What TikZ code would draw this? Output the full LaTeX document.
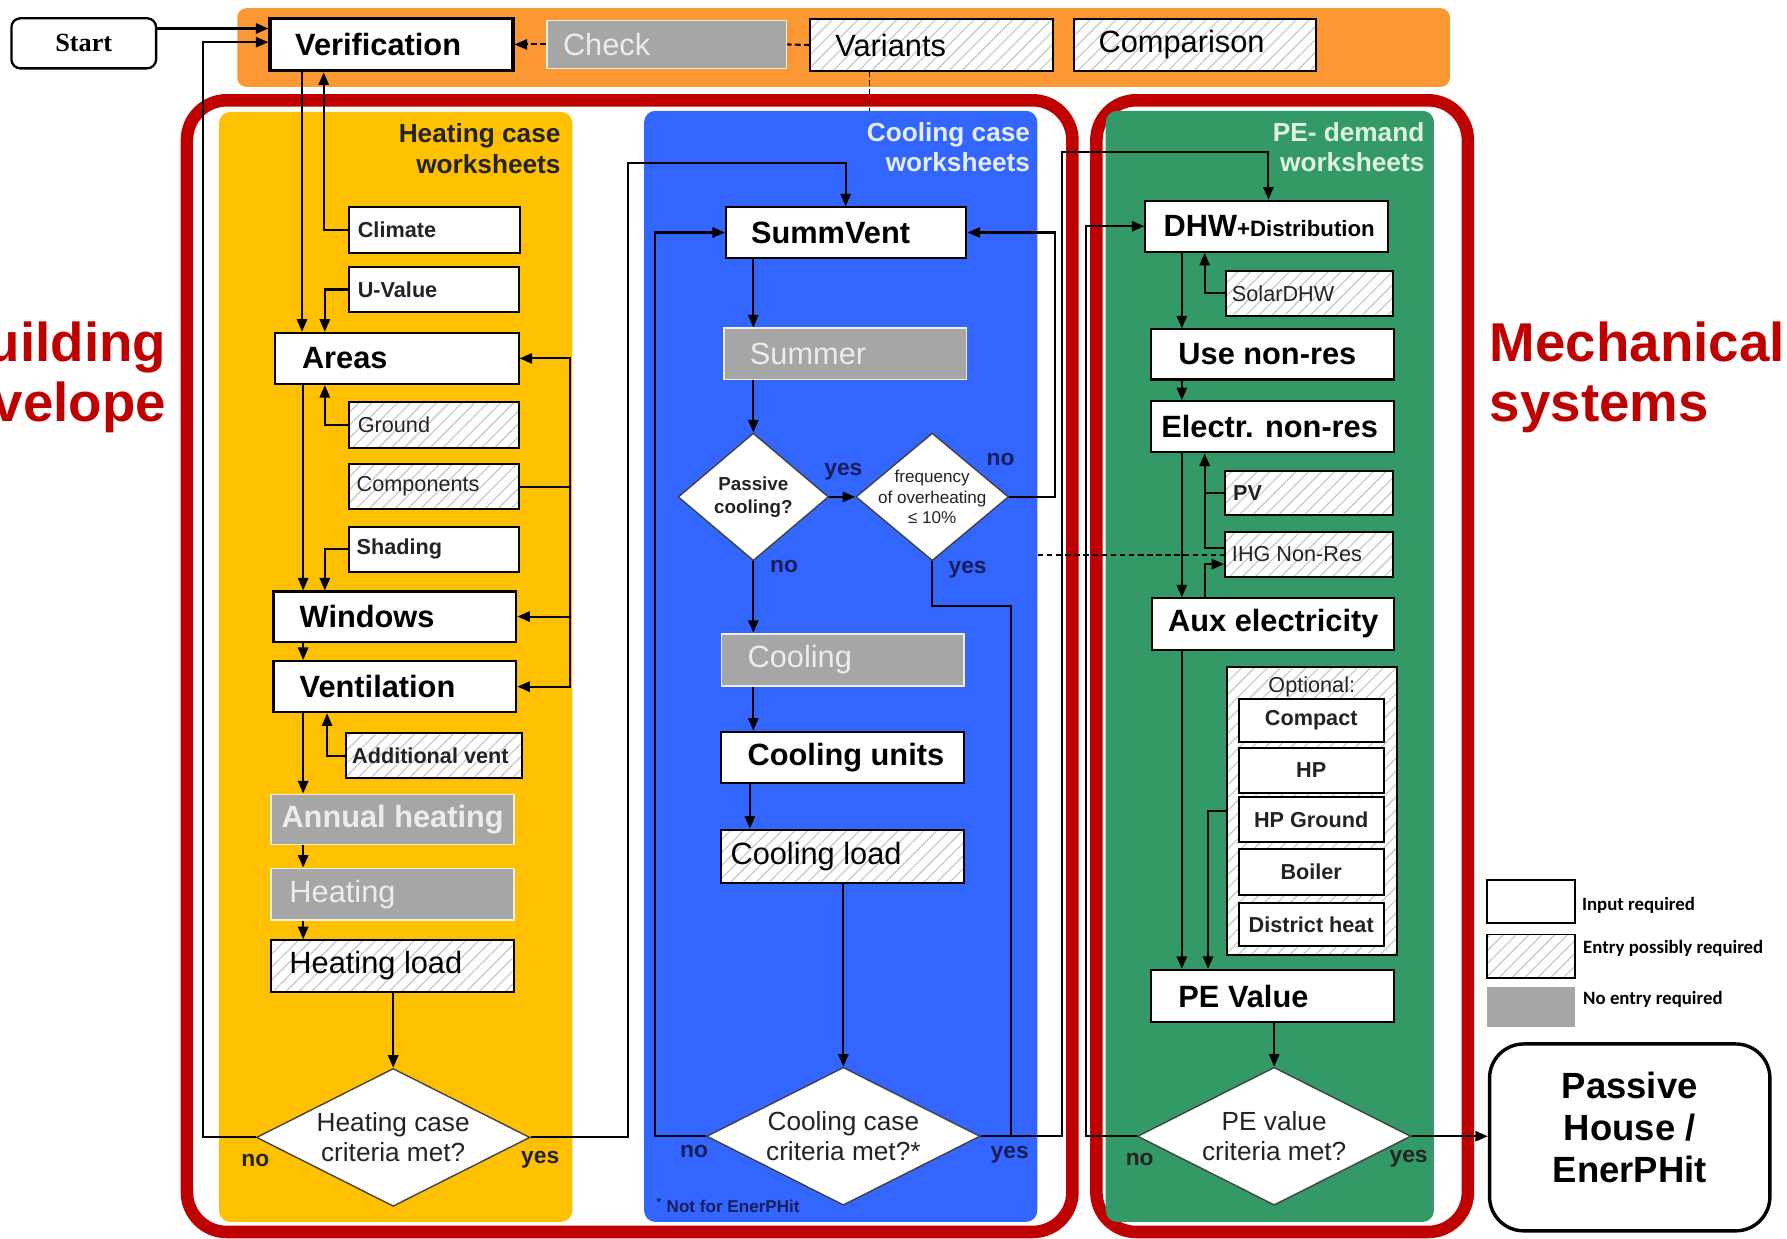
\documentclass[tikz,border=0pt]{standalone}
\usepackage{fontspec}
\setmainfont{Liberation Sans}
\newfontfamily\startfont{Liberation Serif}
\newfontfamily\legendfont{Carlito}
\usetikzlibrary{shapes.geometric,arrows.meta,patterns.meta}
\definecolor{orangec}{RGB}{252,152,52}
\definecolor{yellowc}{RGB}{255,192,0}
\definecolor{bluec}{RGB}{51,102,255}
\definecolor{greenc}{RGB}{51,153,102}
\definecolor{redc}{RGB}{192,0,0}
\definecolor{boxgray}{RGB}{166,166,166}
\definecolor{graybord}{RGB}{240,240,225}
\definecolor{graytext}{RGB}{236,236,236}
\definecolor{hatchc}{RGB}{198,198,198}
\definecolor{navy}{RGB}{25,30,90}
\definecolor{darktext}{RGB}{35,35,35}
\definecolor{bluetitle}{RGB}{228,236,255}
\definecolor{greentitle}{RGB}{222,242,228}
\tikzset{
  wbox/.style={draw=black, line width=1.8pt, fill=white},
  hbox/.style={draw=black, line width=1.8pt, preaction={fill=white}, pattern={Lines[angle=45,distance=8pt,line width=1pt]}, pattern color=hatchc},
  gbox/.style={draw=graybord, line width=1.5pt, fill=boxgray, text=graytext},
  fB/.style={font=\fontsize{27}{31}\selectfont\bfseries},
  fR/.style={font=\fontsize{27}{31}\selectfont},
  fsB/.style={font=\fontsize{19}{22}\selectfont\bfseries, text=darktext},
  fsR/.style={font=\fontsize{19}{22}\selectfont, text=darktext},
  arr/.style={line width=1.8pt, -{Triangle[length=11pt,width=9pt]}},
  ln/.style={line width=1.8pt},
  dia/.style={diamond, draw=black!75, line width=1.2pt, fill=white, inner sep=0pt},
  yn/.style={font=\fontsize{20}{22}\selectfont\bfseries},
  ptitle/.style={anchor=north east, align=right, inner sep=0pt, font=\fontsize{23}{27}\selectfont\bfseries},
  panel/.style={rounded corners=10pt, anchor=north west, inner sep=0pt},
  redframe/.style={draw=redc, line width=11pt, rounded corners=35pt},
}
% name, x1, y1, x2, y2, style, pad, align (l/c), text
\newcommand\bx[9]{%
  \pgfmathsetmacro\bxW{#4-#2}%
  \pgfmathsetmacro\bxH{#5-#3}%
  \pgfmathsetmacro\bxT{#4-#2-2*#7}%
  \pgfmathsetmacro\bxX{(#2+#4)/2}%
  \pgfmathsetmacro\bxY{(#3+#5)/2}%
  \node[#6, minimum width=\bxW pt, minimum height=\bxH pt, inner xsep=#7pt, inner ysep=0pt] (#1) at (\bxX,\bxY) {\makebox[\bxT pt][#8]{#9}};%
}
\begin{document}
\begin{tikzpicture}[x=1pt,y=-1pt]
\useasboundingbox (0,0) rectangle (1568,1087);
\clip (0,0) rectangle (1568,1087);
\fill[white] (0,0) rectangle (1568,1087);

% side titles
\node[anchor=east, align=right, inner sep=0pt, text=redc, font=\fontsize{48}{53}\selectfont\bfseries] (bldg) at (146,331) {Building\\envelope};
\node[anchor=west, align=left, inner sep=0pt, text=redc, font=\fontsize{48}{53}\selectfont\bfseries] (mech) at (1307,331) {Mechanical\\systems};

% orange band
\node[panel, fill=orangec, rounded corners=8pt, minimum width=1064pt, minimum height=69pt] (band) at (208,7) {};

% red frames
\draw[redframe] (164,88) rectangle (941,1081);
\draw[redframe] (962,88) rectangle (1288,1081);

% panels
\node[panel, fill=yellowc, minimum width=310pt, minimum height=974pt] (yellowp) at (192,98) {};
\node[panel, fill=bluec, minimum width=345pt, minimum height=975pt] (bluep) at (565,97) {};
\node[panel, fill=greenc, minimum width=288pt, minimum height=975pt] (greenp) at (970,97) {};

\node[ptitle, text=darktext] (ytitle) at (492,108) {Heating case\\worksheets};
\node[ptitle, text=bluetitle] (btitle) at (904,107) {Cooling case\\worksheets};
\node[ptitle, text=greentitle] (gtitle) at (1250,107) {PE- demand\\worksheets};

% start
\node[draw, line width=2pt, rounded corners=8pt, fill=white, minimum width=127pt, minimum height=44pt, font=\startfont\fontsize{23}{26}\selectfont\bfseries] (start) at (73.5,38) {Start};

% top row
\bx{verif}{237}{16}{450}{62}{wbox,line width=3pt,fB}{22}{l}{Verification}
\bx{check}{480}{18}{690}{60}{gbox,fR}{14}{l}{Check}
\bx{variants}{711}{17}{924}{62}{hbox,fR}{22}{l}{Variants}
\bx{comparison}{942}{17}{1155}{62}{hbox,fR}{22}{l}{Comparison}

% heating case
\bx{climate}{306}{182}{456}{222}{wbox,fsB}{8}{l}{Climate}
\bx{uvalue}{306}{234}{455}{274}{wbox,fsB}{8}{l}{U-Value}
\bx{areas}{241}{292}{455}{337}{wbox,fB}{24}{l}{Areas}
\bx{ground}{306}{353}{455}{393}{hbox,fsR}{8}{l}{Ground}
\bx{components}{306}{407}{455}{447}{hbox,fsR}{7}{l}{Components}
\bx{shading}{306}{462}{455}{502}{wbox,fsB}{7}{l}{Shading}
\bx{windows}{240}{519}{453}{563}{wbox,fB}{23}{l}{Windows}
\bx{ventilation}{240}{580}{453}{625}{wbox,fB}{23}{l}{Ventilation}
\bx{addvent}{304}{643}{458}{683}{hbox,fsB}{5}{l}{Additional vent}
\bx{annual}{238}{697}{451}{741}{gbox,fB}{9}{l}{Annual heating}
\bx{heating}{238}{762}{451}{807}{gbox,fR}{16}{l}{Heating}
\bx{hload}{238}{825}{451}{870}{hbox,fR}{16}{l}{Heating load}
\node[dia, minimum width=240pt, minimum height=121pt, label={[align=center, font=\fontsize{23}{26}\selectfont, text=darktext]center:Heating case\\criteria met?}] (hdia) at (345,998) {};

% cooling case
\bx{summvent}{637}{182}{848}{226}{wbox,fB}{22}{l}{SummVent}
\bx{summer}{635}{288}{848}{333}{gbox,fR}{23}{l}{Summer}
\node[dia, minimum width=132pt, minimum height=112pt, label={[align=center, font=\fontsize{16.5}{20}\selectfont\bfseries, text=darktext]center:Passive\\cooling?}] (pcool) at (661,436) {};
\node[dia, minimum width=134pt, minimum height=112pt, label={[align=center, font=\fontsize{15}{18}\selectfont, text=darktext]center:frequency\\of overheating\\≤ 10\%}] (freq) at (818,436) {};
\bx{cooling}{633}{556}{846}{602}{gbox,fR}{23}{l}{Cooling}
\bx{cunits}{633}{642}{846}{687}{wbox,fB}{23}{l}{Cooling units}
\bx{cload}{633}{728}{846}{775}{hbox,fR}{8}{l}{Cooling load}
\node[dia, minimum width=240pt, minimum height=121pt, label={[align=center, font=\fontsize{23}{26}\selectfont, text=darktext]center:Cooling case\\criteria met?*}] (cdia) at (740,997) {};
\node[anchor=west, inner sep=0pt, text=navy, font=\fontsize{15}{17}\selectfont\bfseries] (note) at (576,1058) {\textsuperscript{*} Not for EnerPHit};

% PE demand
\bx{dhw}{1005}{176}{1218}{221}{wbox,fB}{16}{l}{DHW{\fontsize{19.5}{22}\selectfont+Distribution}}
\bx{solar}{1076}{238}{1222}{277}{hbox,fsR}{5}{l}{SolarDHW}
\bx{usenr}{1010}{289}{1223}{333}{wbox,fB}{24}{l}{Use non-res}
\bx{electr}{1010}{352}{1223}{397}{wbox,fB}{9}{l}{Electr. non-res}
\bx{pv}{1075}{413}{1222}{452}{hbox,fsB}{7}{l}{PV}
\bx{ihg}{1075}{467}{1222}{506}{hbox,fsR}{6}{l}{IHG Non-Res}
\bx{aux}{1011}{525}{1223}{570}{wbox,fB}{14}{l}{Aux electricity}
\bx{optional}{1077}{585}{1226}{838}{hbox}{0}{l}{}
\node[inner sep=0pt, fsR] (opttitle) at (1151,603) {Optional:};
\bx{compact}{1087}{613}{1214}{651}{wbox,fsB}{2}{c}{Compact}
\bx{hp}{1087}{656}{1214}{696}{wbox,fsB}{2}{c}{HP}
\bx{hpground}{1087}{699}{1214}{739}{wbox,fsB}{2}{c}{HP Ground}
\bx{boiler}{1087}{745}{1214}{785}{wbox,fsB}{2}{c}{Boiler}
\bx{district}{1087}{792}{1214}{830}{wbox,fsB}{2}{c}{District heat}
\bx{pev}{1010}{851}{1223}{897}{wbox,fB}{24}{l}{PE Value}
\node[dia, minimum width=240pt, minimum height=121pt, label={[align=center, font=\fontsize{23}{26}\selectfont, text=darktext]center:PE value\\criteria met?}] (pedia) at (1118,997) {};

% result
\node[draw, line width=3pt, rounded corners=30pt, fill=white, minimum width=246pt, minimum height=164pt] (phouse) at (1430,998) {};
\node[align=center, inner sep=0pt, font=\fontsize{32}{37}\selectfont\bfseries] (phtext) at (1430,989) {Passive\\House /\\EnerPHit};

% legend
\bx{leg1}{1305}{772}{1382}{810}{wbox,line width=1.5pt}{0}{l}{}
\bx{leg2}{1305}{820}{1382}{858}{hbox,line width=1.5pt}{0}{l}{}
\bx{leg3}{1305}{866}{1382}{901}{fill=boxgray}{0}{l}{}
\node[anchor=west, inner sep=0pt, font=\legendfont\fontsize{16.5}{19}\selectfont\bfseries] (lt1) at (1388,794) {Input required};
\node[anchor=west, inner sep=0pt, font=\legendfont\fontsize{16.5}{19}\selectfont\bfseries] (lt2) at (1389,832) {Entry possibly required};
\node[anchor=west, inner sep=0pt, font=\legendfont\fontsize{16.5}{19}\selectfont\bfseries] (lt3) at (1389,877) {No entry required};

% ---------- connectors ----------
% top
\draw[arr] (start.east |- 0,25) -- (verif.west |- 0,25);
\draw[arr] (hdia.west) -| (178,37) -- (verif.west |- 0,37);
\draw[line width=1.8pt, dash pattern=on 5pt off 3pt, -{Triangle[length=11pt,width=9pt]}] (check.west) -- (verif.east);
\draw[line width=1.8pt, dash pattern=on 5pt off 3pt] (variants.west) -- (check.east);
\draw[line width=1.5pt, dash pattern=on 5pt off 3pt] (variants.south -| 763,0) -- (bluep.north -| 763,0);

% heating case
\draw[arr] (verif.south -| 265,0) -- (areas.north -| 265,0);
\draw[arr] (climate.west) -| (verif.south -| 284,0);
\draw[arr] (uvalue.west) -| (areas.north -| 285,0);
\draw[arr] (areas.south -| 266,0) -- (windows.north -| 266,0);
\draw[arr] (ground.west) -| (areas.south -| 285,0);
\draw[arr] (shading.west) -| (windows.north -| 285,0);
\coordinate (cj) at (components.east -| 500,0);
\draw[ln] (components.east) -- (cj);
\draw[arr] (cj) |- (areas.east);
\draw[arr] (cj) |- (windows.east);
\draw[arr] (cj) |- (ventilation.east);
\draw[arr] (windows.south -| 266,0) -- (ventilation.north -| 266,0);
\draw[arr] (ventilation.south -| 266,0) -- (annual.north -| 266,0);
\draw[arr] (addvent.west) -| (ventilation.south -| 287,0);
\draw[arr] (annual.south -| 266,0) -- (heating.north -| 266,0);
\draw[arr] (heating.south -| 266,0) -- (hload.north -| 266,0);
\draw[arr] (hdia.north |- hload.south) -- (hdia.north);
\draw[arr] (hdia.east) -| (551,143) -| (summvent.north -| 742,0);

% cooling case
\draw[arr] (summvent.south -| 661,0) -- (summer.north -| 661,0);
\draw[arr] (pcool.north |- summer.south) -- (pcool.north);
\draw[arr] (pcool.east) -- (freq.west);
\draw[arr] (pcool.south) -- (cooling.north -| pcool.south);
\draw[arr] (cooling.south -| 661,0) -- (cunits.north -| 661,0);
\draw[arr] (cunits.south -| 658,0) -- (cload.north -| 658,0);
\draw[arr] (cdia.north |- cload.south) -- (cdia.north);
\draw[arr] (cdia.west) -| (575,204) -- (summvent.west);
\draw[arr] (freq.east) -| (926,204) -- (summvent.east);
\draw[ln] (freq.south) |- (887,532) -- (887,997);
\draw[arr] (cdia.east) -| (932,133) -| (dhw.north -| 1113,0);
\draw[line width=1.5pt, dash pattern=on 5pt off 3pt] (bluep.east |- 0,487) -- (ihg.west |- 0,487);

% PE demand
\draw[arr] (dhw.south -| 1037,0) -- (usenr.north -| 1037,0);
\draw[arr] (solar.west) -| (dhw.south -| 1057,0);
\draw[arr] (usenr.south -| 1037,0) -- (electr.north -| 1037,0);
\draw[arr] (electr.south -| 1037,0) -- (aux.north -| 1037,0);
\draw[arr] (pv.west) -| (electr.south -| 1057,0);
\draw[ln] (ihg.west |- 0,481) -| (pv.west -| 1057,0);
\draw[arr] (aux.north -| 1057,0) |- (ihg.west |- 0,495);
\draw[arr] (aux.south -| 1037,0) -- (pev.north -| 1037,0);
\draw[arr] (optional.west |- 0,712) -| (pev.north -| 1060,0);
\draw[arr] (pedia.north |- pev.south) -- (pedia.north);
\draw[arr] (pedia.west) -| (953,198.5) -- (dhw.west);
\draw[arr] (pedia.east) -- (phouse.west |- pedia.east);

% yes / no labels
\node[yn, text=darktext] (hno) at (224,1018) {no};
\node[yn, text=darktext] (hyes) at (474,1018) {yes};
\node[yn, text=navy] (pyes) at (740,414) {yes};
\node[yn, text=navy] (fno) at (878,403) {no};
\node[yn, text=navy] (pno) at (688,497) {no};
\node[yn, text=navy] (fyes) at (849,500) {yes};
\node[yn, text=navy] (cno) at (609,1010) {no};
\node[yn, text=navy] (cyes) at (886,1013) {yes};
\node[yn, text=darktext] (peno) at (1000,1017) {no};
\node[yn, text=darktext] (peyes) at (1236,1017) {yes};
\end{tikzpicture}
\end{document}
